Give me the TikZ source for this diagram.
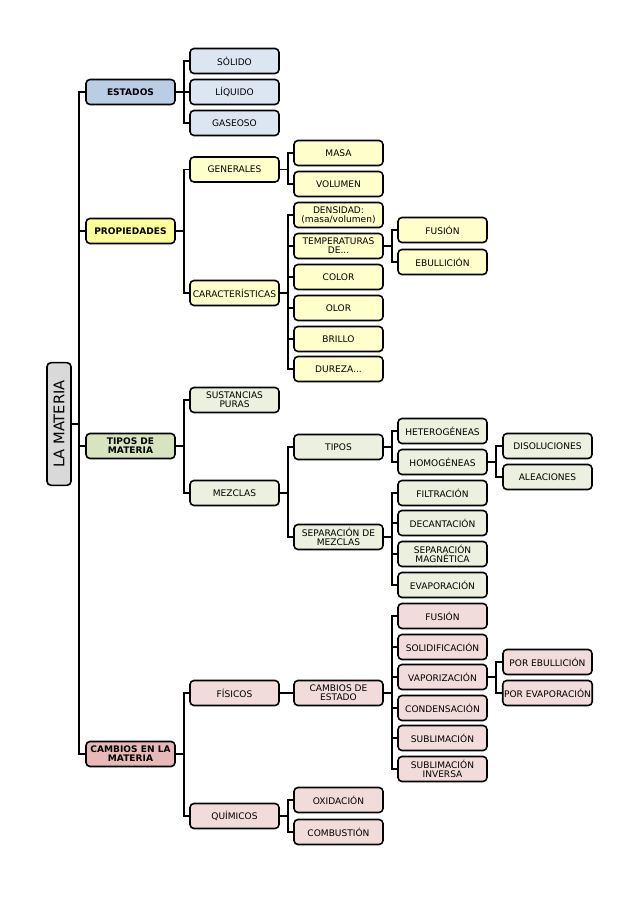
\documentclass[tikz,border=0pt]{standalone}
\usepackage{fontspec}
\setmainfont{DejaVu Sans}
\definecolor{raiz}{HTML}{D9D9D9}
\definecolor{estD}{HTML}{B9CDE5}
\definecolor{estL}{HTML}{DCE6F2}
\definecolor{propD}{HTML}{FFFF99}
\definecolor{propL}{HTML}{FFFFCC}
\definecolor{tipD}{HTML}{D7E4BD}
\definecolor{tipL}{HTML}{EBF1DE}
\definecolor{camD}{HTML}{E6B9B8}
\definecolor{camL}{HTML}{F2DCDB}
\newcommand{\puntos}{...}

\begin{document}
\begin{tikzpicture}[x=0.75pt,y=-0.75pt,
  caja/.style={draw,line width=1.2pt,rounded corners=3pt,minimum width=66.75pt,
    minimum height=18.75pt,inner sep=1pt,align=center,font=\fontsize{6.8}{6.9}\selectfont},
  cab/.style={caja,font=\fontsize{6.8}{6.9}\selectfont\bfseries},
  enlace/.style={line width=1.1pt}]
  \useasboundingbox (0,0) rectangle (638,903);
  % raiz
  \node[caja,fill=raiz,rotate=90,minimum width=92pt,minimum height=18pt,
    font=\fontsize{11}{12}\selectfont] (mat) at (59,424) {LA MATERIA};
  \node[cab,fill=estD] (est) at (130.5,92) {ESTADOS};
  \node[cab,fill=propD] (prop) at (130.5,231) {PROPIEDADES};
  \node[cab,fill=tipD] (tip) at (130.5,446) {TIPOS DE\\MATERIA};
  \node[cab,fill=camD] (cam) at (130.5,754) {CAMBIOS EN LA\\MATERIA};
  \foreach \n in {est,prop,tip,cam} \draw[enlace] (mat.south) -- ++(7,0) |- (\n.west);
  % estados
  \foreach \n/\y/\txt in {sol/61/SÓLIDO,liq/92/LÍQUIDO,gas/123/GASEOSO}{
    \node[caja,fill=estL] (\n) at (234.5,\y) {\txt};
    \draw[enlace] (est.east) -- ++(8,0) |- (\n.west);}
  % propiedades
  \foreach \n/\y/\txt in {gen/169.5/GENERALES,car/293/CARACTERÍSTICAS}{
    \node[caja,fill=propL] (\n) at (234.5,\y) {\txt};
    \draw[enlace] (prop.east) -- ++(8,0) |- (\n.west);}
  \foreach \n/\y/\txt in {mas/153/MASA,vol/184/VOLUMEN}{
    \node[caja,fill=propL] (\n) at (338.5,\y) {\txt};
    \draw[enlace] (gen.east) -- ++(8,0) |- (\n.west);}
  \foreach \n/\y/\txt in {den/215/{DENSIDAD:\\(masa/volumen)},tem/246/{TEMPERATURAS\\DE\puntos},
      col/277/COLOR,olo/308/OLOR,bri/339/BRILLO,dur/369/{DUREZA\puntos}}{
    \node[caja,fill=propL] (\n) at (338.5,\y) {\txt};
    \draw[enlace] (car.east) -- ++(8,0) |- (\n.west);}
  \foreach \n/\y/\txt in {fus/230/FUSIÓN,ebu/262/EBULLICIÓN}{
    \node[caja,fill=propL] (\n) at (442.5,\y) {\txt};
    \draw[enlace] (tem.east) -- ++(8,0) |- (\n.west);}
  % tipos de materia
  \foreach \n/\y/\txt in {sus/400/{SUSTANCIAS\\PURAS},mez/493/MEZCLAS}{
    \node[caja,fill=tipL] (\n) at (234.5,\y) {\txt};
    \draw[enlace] (tip.east) -- ++(8,0) |- (\n.west);}
  \foreach \n/\y/\txt in {tmz/447/TIPOS,sep/537/{SEPARACIÓN DE\\MEZCLAS}}{
    \node[caja,fill=tipL] (\n) at (338.5,\y) {\txt};
    \draw[enlace] (mez.east) -- ++(8,0) |- (\n.west);}
  \foreach \n/\y/\txt in {het/431/HETEROGÉNEAS,hom/462/HOMOGÉNEAS}{
    \node[caja,fill=tipL] (\n) at (442.5,\y) {\txt};
    \draw[enlace] (tmz.east) -- ++(8,0) |- (\n.west);}
  \foreach \n/\y/\txt in {dis/446/DISOLUCIONES,ale/477/ALEACIONES}{
    \node[caja,fill=tipL] (\n) at (547.5,\y) {\txt};
    \draw[enlace] (hom.east) -- ++(8,0) |- (\n.west);}
  \foreach \n/\y/\txt in {fil/493/FILTRACIÓN,dec/523/DECANTACIÓN,
      mag/554/{SEPARACIÓN\\MAGNÉTICA},eva/585/EVAPORACIÓN}{
    \node[caja,fill=tipL] (\n) at (442.5,\y) {\txt};
    \draw[enlace] (sep.east) -- ++(8,0) |- (\n.west);}
  % cambios en la materia
  \foreach \n/\y/\txt in {fis/693/FÍSICOS,qui/816/QUÍMICOS}{
    \node[caja,fill=camL] (\n) at (234.5,\y) {\txt};
    \draw[enlace] (cam.east) -- ++(8,0) |- (\n.west);}
  \node[caja,fill=camL] (ces) at (338.5,693) {CAMBIOS DE\\ESTADO};
  \draw[enlace] (fis) -- (ces);
  \foreach \n/\y/\txt in {cfu/616/FUSIÓN,cso/647/SOLIDIFICACIÓN,vap/677/VAPORIZACIÓN,
      con/708/CONDENSACIÓN,sub/738/SUBLIMACIÓN,inv/769/{SUBLIMACIÓN\\INVERSA}}{
    \node[caja,fill=camL] (\n) at (442.5,\y) {\txt};
    \draw[enlace] (ces.east) -- ++(8,0) |- (\n.west);}
  \foreach \n/\y/\txt in {peb/662/POR EBULLICIÓN,pev/693/POR EVAPORACIÓN}{
    \node[caja,fill=camL] (\n) at (547.5,\y) {\txt};
    \draw[enlace] (vap.east) -- ++(8,0) |- (\n.west);}
  \foreach \n/\y/\txt in {oxi/800/OXIDACIÓN,com/832/COMBUSTIÓN}{
    \node[caja,fill=camL] (\n) at (338.5,\y) {\txt};
    \draw[enlace] (qui.east) -- ++(8,0) |- (\n.west);}
\end{tikzpicture}
\end{document}
